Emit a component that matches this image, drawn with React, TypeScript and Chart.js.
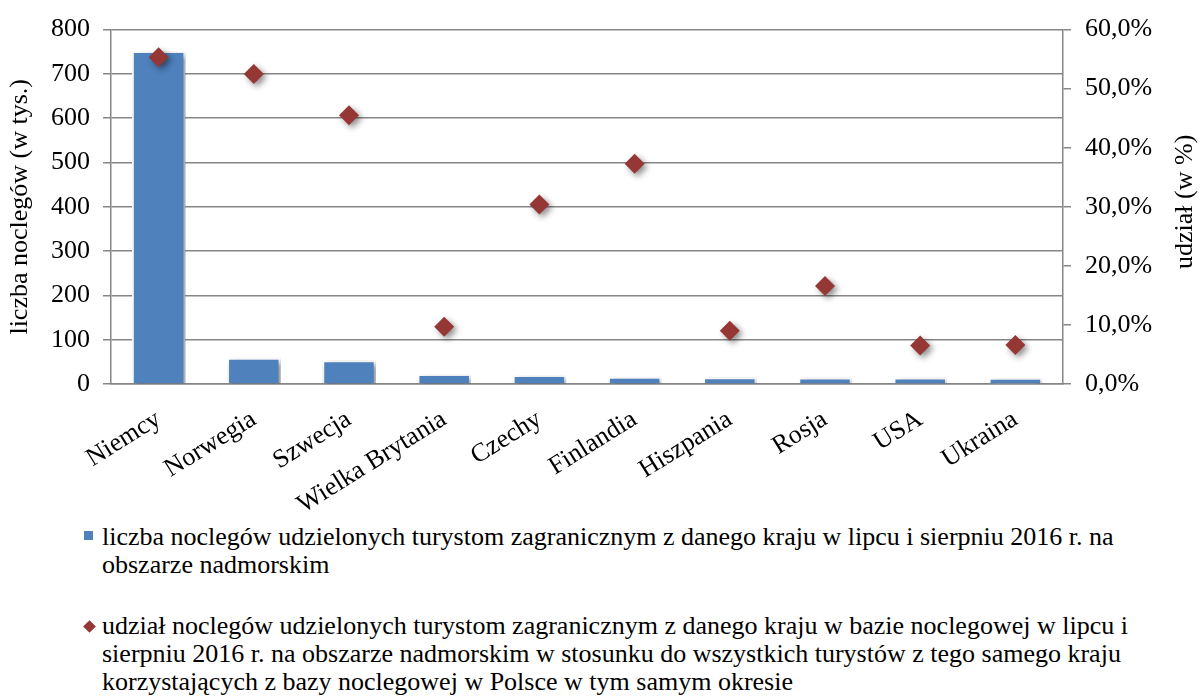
import React, { useEffect, useRef } from "react";
import { Chart, registerables } from "chart.js";

Chart.register(...registerables);

const categories = [
  "Niemcy",
  "Norwegia",
  "Szwecja",
  "Wielka Brytania",
  "Czechy",
  "Finlandia",
  "Hiszpania",
  "Rosja",
  "USA",
  "Ukraina",
];
const nightsThousands = [747, 55, 49, 18, 16, 12, 11, 10, 10, 8];
const sharePercent = [55.3, 52.5, 45.5, 9.7, 30.4, 37.3, 9.0, 16.6, 6.5, 6.6];
const leftTicks = [0, 100, 200, 300, 400, 500, 600, 700, 800];
const rightTicks = [0, 10, 20, 30, 40, 50, 60];
const leftTitle = "liczba noclegów (w tys.)";
const rightTitle = "udział (w %)";
const legendLabels = [
  "liczba noclegów udzielonych turystom zagranicznym z danego kraju w lipcu i sierpniu 2016 r. na obszarze nadmorskim",
  "udział noclegów udzielonych turystom zagranicznym z danego kraju w bazie noclegowej w lipcu i sierpniu 2016 r. na obszarze nadmorskim w stosunku do wszystkich turystów z tego samego kraju korzystających z bazy noclegowej w Polsce w tym samym okresie",
];

const FONT = "'Liberation Serif', 'Times New Roman', serif";
const BAR = "#4F81BD";
const DIAMOND = "#953735";
const GRID = "#868686";
const W = 1201;
const CH = 520;

const shadowPlugin = {
  id: "shadowPlugin",
  beforeDatasetDraw(chart: any) {
    const ctx = chart.ctx;
    ctx.save();
    ctx.shadowColor = "rgba(0,0,0,0.45)";
    ctx.shadowBlur = 6;
    ctx.shadowOffsetX = 3;
    ctx.shadowOffsetY = 3;
  },
  afterDatasetDraw(chart: any) {
    chart.ctx.restore();
  },
};

const rightTitlePlugin = {
  id: "rightTitlePlugin",
  afterDraw(chart: any) {
    const ctx = chart.ctx;
    const area = chart.chartArea;
    ctx.save();
    ctx.translate(1185, (area.top + area.bottom) / 2 - 5);
    ctx.rotate(-Math.PI / 2);
    ctx.font = `26px ${FONT}`;
    ctx.fillStyle = "#000";
    ctx.textAlign = "center";
    ctx.textBaseline = "middle";
    ctx.fillText(rightTitle, 0, 0);
    ctx.restore();
  },
};

export default function App() {
  const ref = useRef<HTMLCanvasElement | null>(null);

  useEffect(() => {
    if (!ref.current) return;
    const chart = new Chart(ref.current, {
      type: "bar",
      data: {
        labels: categories,
        datasets: [
          {
            type: "line",
            label: legendLabels[1],
            data: sharePercent,
            yAxisID: "y1",
            showLine: false,
            pointStyle: "rectRot",
            pointRadius: 10,
            pointHoverRadius: 10,
            pointBackgroundColor: DIAMOND,
            pointBorderColor: DIAMOND,
            pointBorderWidth: 0,
            order: 0,
          } as any,
          {
            type: "bar",
            label: legendLabels[0],
            data: nightsThousands,
            yAxisID: "y",
            backgroundColor: BAR,
            borderColor: "#ffffff",
            borderWidth: 2,
            inflateAmount: 2,
            barPercentage: 0.52,
            categoryPercentage: 1,
            order: 1,
          } as any,
        ],
      },
      options: {
        responsive: false,
        animation: false,
        layout: { padding: { top: 27, left: 0, right: 0, bottom: 0 } },
        plugins: {
          legend: { display: false },
          tooltip: { enabled: false },
        },
        scales: {
          x: {
            grid: { display: false, drawTicks: false },
            border: { display: true, color: GRID, width: 1.5 },
            ticks: {
              color: "#000",
              font: { family: FONT, size: 26 },
              minRotation: 32,
              maxRotation: 32,
              autoSkip: false,
              padding: 20,
            },
            afterFit(scale: any) {
              scale.height = CH - 384;
            },
          },
          y: {
            position: "left",
            min: 0,
            max: 800,
            afterBuildTicks(scale: any) {
              scale.ticks = leftTicks.map((v) => ({ value: v }));
            },
            grid: {
              color: GRID,
              lineWidth: 1.5,
              drawTicks: true,
              tickLength: 8,
              tickColor: GRID,
            },
            border: { display: true, color: GRID, width: 1.5 },
            ticks: {
              color: "#000",
              font: { family: FONT, size: 26 },
              padding: 13,
            },
            title: {
              display: true,
              text: leftTitle,
              color: "#000",
              font: { family: FONT, size: 26, lineHeight: 1.2 },
              padding: { top: 5, bottom: 0 },
            },
            afterFit(scale: any) {
              scale.width = 111;
            },
          },
          y1: {
            position: "right",
            min: 0,
            max: 60,
            afterBuildTicks(scale: any) {
              scale.ticks = rightTicks.map((v) => ({ value: v }));
            },
            grid: {
              drawOnChartArea: false,
              drawTicks: true,
              tickLength: 8,
              tickColor: GRID,
              lineWidth: 1.5,
            },
            border: { display: true, color: GRID, width: 1.5 },
            ticks: {
              color: "#000",
              font: { family: FONT, size: 26 },
              padding: 14,
              callback: (v: any) => Number(v).toFixed(1).replace(".", ",") + "%",
            },
            afterFit(scale: any) {
              scale.width = W - 1063;
            },
          },
        },
      },
      plugins: [shadowPlugin, rightTitlePlugin],
    });
    return () => chart.destroy();
  }, []);

  const legendTops = [523, 612];
  const markerTops = [531, 622];

  return (
    <div
      style={{
        position: "fixed",
        left: 0,
        top: 0,
        width: W,
        height: 698,
        background: "#fff",
        overflow: "hidden",
        fontFamily: FONT,
      }}
    >
      <canvas ref={ref} width={W} height={CH} style={{ position: "absolute", left: 0, top: 0 }} />
      {legendLabels.map((txt, i) => (
        <React.Fragment key={i}>
          <div
            style={{
              position: "absolute",
              left: i === 0 ? 84 : 85,
              top: markerTops[i],
              width: 9,
              height: 9,
              background: i === 0 ? BAR : DIAMOND,
              transform: i === 0 ? "none" : "rotate(45deg)",
            }}
          />
          <div
            style={{
              position: "absolute",
              left: 102,
              top: legendTops[i],
              width: 1085,
              fontSize: 26,
              lineHeight: "28px",
              color: "#000",
            }}
          >
            {txt}
          </div>
        </React.Fragment>
      ))}
    </div>
  );
}
